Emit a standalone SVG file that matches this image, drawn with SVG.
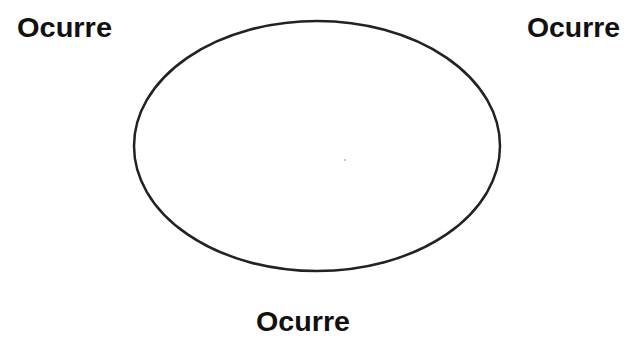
<svg xmlns="http://www.w3.org/2000/svg" width="628" height="340" viewBox="0 0 628 340">
<style>
.lbl{font-family:"Liberation Sans",Arial,sans-serif;font-weight:bold;font-size:28px;fill:#111;}
.shape{fill:none;stroke:#222;stroke-width:2.5;}
</style>
<rect width="628" height="340" fill="#fff"/>
<g id="ellipse-node">
<ellipse class="shape" cx="317" cy="146" rx="183" ry="125"/>
<circle cx="345" cy="160" r="1" fill="#bbb"/>
</g>
<g id="label-top-left"><text class="lbl" x="17" y="37" textLength="95" lengthAdjust="spacingAndGlyphs">Ocurre</text></g>
<g id="label-top-right"><text class="lbl" x="527" y="37" textLength="93" lengthAdjust="spacingAndGlyphs">Ocurre</text></g>
<g id="label-bottom"><text class="lbl" x="256" y="331" textLength="94" lengthAdjust="spacingAndGlyphs">Ocurre</text></g>
<g id="connectors"></g>
</svg>
